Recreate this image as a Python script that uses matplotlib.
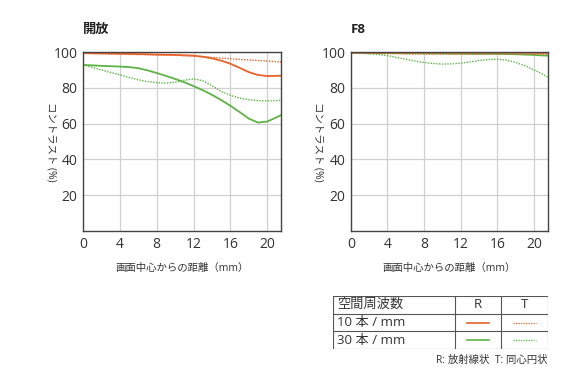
import numpy as np
import matplotlib.pyplot as plt
from matplotlib.lines import Line2D

plt.rcParams['font.family'] = ['Open Sans', 'Noto Sans CJK JP', 'DejaVu Sans']

# image height from centre (mm)
dist = [0, 1, 2, 3, 4, 5, 6, 7, 8, 9, 10, 11, 12, 13, 14, 15, 16, 17, 18, 19, 20, 21, 21.5]

# open aperture
open_10R = [99.5, 99.4, 99.3, 99.2, 99.1, 99.0, 98.9, 98.8, 98.6, 98.5, 98.4, 98.2, 98.0,
            97.4, 96.5, 95.2, 93.5, 91.2, 88.8, 87.2, 86.6, 86.7, 86.8]
open_10T = [99.2, 99.1, 99.0, 98.9, 98.8, 98.7, 98.6, 98.5, 98.4, 98.3, 98.2, 98.0, 97.8,
            97.4, 97.0, 96.6, 96.3, 95.9, 95.6, 95.3, 95.0, 94.6, 94.4]
open_30R = [92.8, 92.6, 92.3, 92.1, 91.9, 91.6, 91.0, 89.8, 88.3, 86.7, 85.0, 83.1, 81.0,
            78.7, 76.1, 73.2, 70.0, 66.5, 62.8, 60.6, 61.2, 63.5, 64.8]
open_30T = [92.8, 91.5, 90.0, 88.6, 87.3, 85.8, 84.5, 83.5, 82.9, 82.6, 83.2, 84.3, 85.0,
            84.0, 81.2, 78.0, 75.8, 74.3, 73.4, 72.9, 72.7, 72.9, 73.1]

# F8
f8_10R = [99.8, 99.8, 99.8, 99.8, 99.8, 99.8, 99.8, 99.8, 99.8, 99.8, 99.8, 99.8, 99.8,
          99.8, 99.8, 99.8, 99.8, 99.8, 99.7, 99.7, 99.6, 99.5, 99.5]
f8_10T = [99.4, 99.4, 99.3, 99.3, 99.2, 99.1, 99.0, 99.0, 98.9, 98.9, 98.9, 98.9, 98.9,
          98.9, 98.9, 98.9, 99.0, 99.0, 99.0, 99.0, 98.9, 98.8, 98.7]
f8_30R = [99.5, 99.5, 99.5, 99.4, 99.4, 99.4, 99.3, 99.3, 99.3, 99.2, 99.2, 99.1, 99.1,
          99.0, 99.0, 99.0, 99.0, 98.9, 98.8, 98.6, 98.4, 98.1, 98.0]
f8_30T = [99.5, 99.3, 99.0, 98.6, 98.0, 97.0, 96.0, 95.0, 94.2, 93.6, 93.3, 93.4, 93.8,
          94.5, 95.3, 95.8, 96.0, 95.5, 94.2, 92.4, 90.0, 87.5, 86.0]

titles = ['開放', 'F8']
xticks = [0, 4, 8, 12, 16, 20]
yticks = [20, 40, 60, 80, 100]
orange = '#e8622a'
green = '#5cb444'
frame = '#444444'

fig = plt.figure(figsize=(5.79, 3.84), dpi=100)
ax1 = fig.add_axes([0.1434, 0.3984, 0.342, 0.466])
ax2 = fig.add_axes([0.606, 0.3984, 0.340, 0.466])

panels = [(ax1, open_10R, open_10T, open_30R, open_30T),
          (ax2, f8_10R, f8_10T, f8_30R, f8_30T)]

for (ax, r10, t10, r30, t30), title in zip(panels, titles):
    ax.plot(dist, t30, color=green, lw=1.0, ls=(0, (1, 1)))
    ax.plot(dist, r30, color=green, lw=1.3)
    ax.plot(dist, t10, color=orange, lw=1.0, ls=(0, (1, 1)))
    ax.plot(dist, r10, color=orange, lw=1.3)
    ax.set_xlim(0, 21.5)
    ax.set_ylim(0, 100)
    ax.set_xticks(xticks)
    ax.set_yticks(yticks)
    ax.grid(color='#d0d0d0', lw=0.9)
    ax.set_axisbelow(True)
    ax.tick_params(length=0, labelsize=10, colors='#333333', pad=4)
    for s in ax.spines.values():
        s.set_color(frame)
        s.set_linewidth(1.0)
    ax.set_xlabel('画面中心からの距離（mm）', fontsize=7.5, color='#333333', labelpad=8)
    ax.set_ylabel('コントラスト (%)', fontsize=7.5, color='#333333', rotation=270,
                  labelpad=6, va='bottom')
    ax.text(0, 1.128, title, transform=ax.transAxes, fontsize=9.5, fontweight='bold',
            color='#222222', va='center')

# legend table
freq_labels = ['10 本 / mm', '30 本 / mm']
header = ['空間周波数', 'R', 'T']
tab = fig.add_axes([333 / 579, 1 - 349 / 384, (548 - 333) / 579, (349 - 296) / 384])
tab.set_xlim(0, 215)
tab.set_ylim(0, 3)
tab.axis('off')
col_x = [0, 122, 168, 215]
for y in [0, 1, 2, 3]:
    tab.add_line(Line2D([0, 215], [y, y], color='#555555', lw=0.8))
for x in col_x:
    tab.add_line(Line2D([x, x], [0, 3], color='#555555', lw=0.8))
tab.text(4, 2.5, header[0], fontsize=9.5, va='center', color='#333333')
tab.text(145, 2.5, header[1], fontsize=9.5, va='center', ha='center', color='#333333')
tab.text(191.5, 2.5, header[2], fontsize=9.5, va='center', ha='center', color='#333333')
for i, (lab, col) in enumerate(zip(freq_labels, [orange, green])):
    yc = 1.5 - i
    tab.text(4, yc, lab, fontsize=9.5, va='center', color='#333333')
    tab.add_line(Line2D([134, 156], [yc, yc], color=col, lw=1.2))
    tab.add_line(Line2D([180, 203], [yc, yc], color=col, lw=0.9, ls=(0, (1, 1))))

fig.text(548 / 579, 1 - 360 / 384, 'R: 放射線状  T: 同心円状', fontsize=7.5, ha='right',
         va='center', color='#333333')

fig.savefig('out.png', dpi=100)
